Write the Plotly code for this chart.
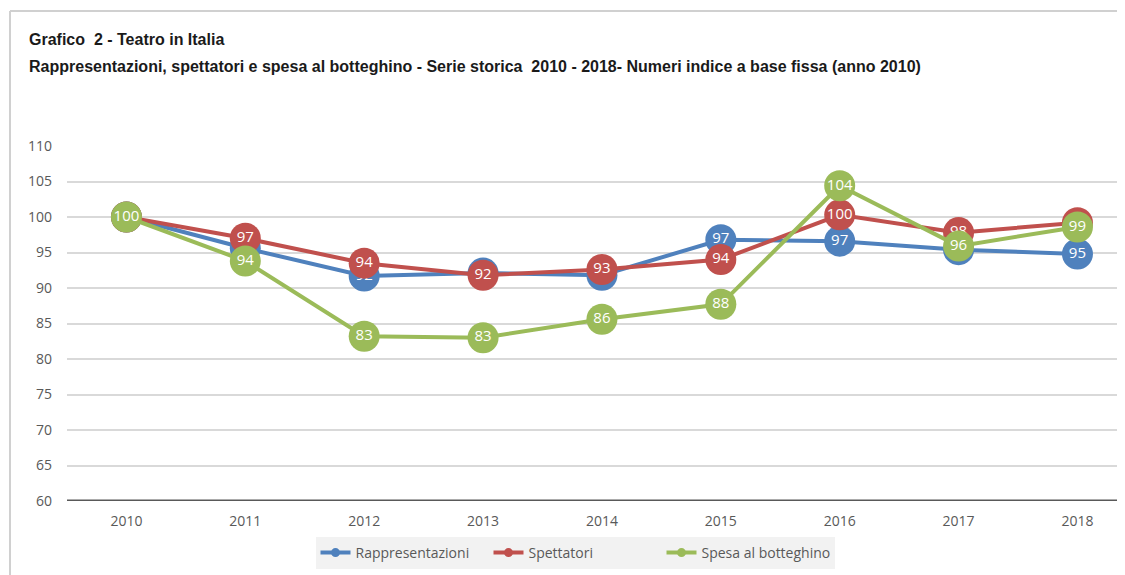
import plotly.graph_objects as go

years = ["2010", "2011", "2012", "2013", "2014", "2015", "2016", "2017", "2018"]
rappresentazioni = [100, 95.6, 91.7, 92.1, 91.8, 96.8, 96.6, 95.4, 94.8]
spettatori = [100, 97.0, 93.5, 91.8, 92.6, 94.0, 100.3, 97.8, 99.2]
spesa = [100, 93.8, 83.2, 83.0, 85.6, 87.7, 104.4, 95.9, 98.6]

series = [
    ("Rappresentazioni", rappresentazioni, "#4f81bd"),
    ("Spettatori", spettatori, "#c0504d"),
    ("Spesa al botteghino", spesa, "#9bbb59"),
]

OFF = 8  # page body margin
W, H = 1125 - OFF, 575 - OFF
L, R, T, B = 67 - OFF, 0, 146 - OFF, 74
pw, ph = W - L - R, H - T - B

def px_x(x):
    return (x - OFF - L) / pw

def px_y(y):
    return (H - B - (y - OFF)) / ph

fig = go.Figure()
for name, vals, col in series:
    fig.add_trace(go.Scatter(
        x=years, y=vals, name=name, mode="lines+markers+text",
        line=dict(color=col, width=4),
        marker=dict(color=col, size=31, line=dict(width=0)),
        text=[f"{round(v):d}" for v in vals],
        textposition="middle center",
        textfont=dict(color="white", size=15, family="Open Sans"),
        cliponaxis=False, showlegend=False,
    ))
# legend entries with small markers, as in the reference legend
for name, vals, col in series:
    fig.add_trace(go.Scatter(
        x=[None], y=[None], name=name, mode="lines+markers",
        line=dict(color=col, width=4), marker=dict(color=col, size=9),
        showlegend=True,
    ))

font_ui = "Open Sans"
title_font = "Liberation Sans Narrow, Arial Narrow, Liberation Sans, sans-serif"
fig.update_layout(
    width=W, height=H,
    margin=dict(l=L, r=R, t=T, b=B, autoexpand=False),
    paper_bgcolor="white", plot_bgcolor="white",
    showlegend=True,
    legend=dict(
        orientation="h", x=px_x(575), xanchor="center", y=px_y(553), yanchor="middle",
        bgcolor="#f2f2f2", font=dict(size=14, color="#595959", family=font_ui),
        itemwidth=30, entrywidth=128, entrywidthmode="pixels", traceorder="normal",
    ),
    xaxis=dict(
        type="category", range=[-0.5, 8.4], showgrid=False, zeroline=False,
        showline=False, ticks="", tickfont=dict(size=14, color="#595959", family=font_ui),
        ticklabelstandoff=10,
    ),
    yaxis=dict(
        range=[60, 110], dtick=5, tick0=60, showgrid=True, gridcolor="#d9d9d9", gridwidth=1.5,
        zeroline=False, showline=False, ticks="",
        tickfont=dict(size=14, color="#595959", family=font_ui),
        ticklabelstandoff=14,
    ),
    shapes=[
        dict(type="line", xref="paper", yref="y", x0=0, x1=1, y0=60, y1=60,
             line=dict(color="#595959", width=3), layer="above"),
        dict(type="line", xref="paper", yref="paper", x0=px_x(10), x1=px_x(10),
             y0=px_y(11), y1=px_y(575), line=dict(color="#d0d0d0", width=2)),
        dict(type="line", xref="paper", yref="paper", x0=px_x(10), x1=px_x(1125),
             y0=px_y(11), y1=px_y(11), line=dict(color="#d0d0d0", width=2)),
    ],
    annotations=[
        dict(text="<b>Grafico  2 - Teatro in Italia</b>", xref="paper", yref="paper",
             x=px_x(27), y=px_y(40), xanchor="left", yanchor="middle", showarrow=False,
             font=dict(size=16, color="#1a1a1a", family=title_font)),
        dict(text="<b>Rappresentazioni, spettatori e spesa al botteghino - Serie storica  2010 - 2018- Numeri indice a base fissa (anno 2010)</b>",
             xref="paper", yref="paper",
             x=px_x(27), y=px_y(66), xanchor="left", yanchor="middle", showarrow=False,
             font=dict(size=16, color="#1a1a1a", family=title_font)),
    ],
)

fig.write_html("out.html")
